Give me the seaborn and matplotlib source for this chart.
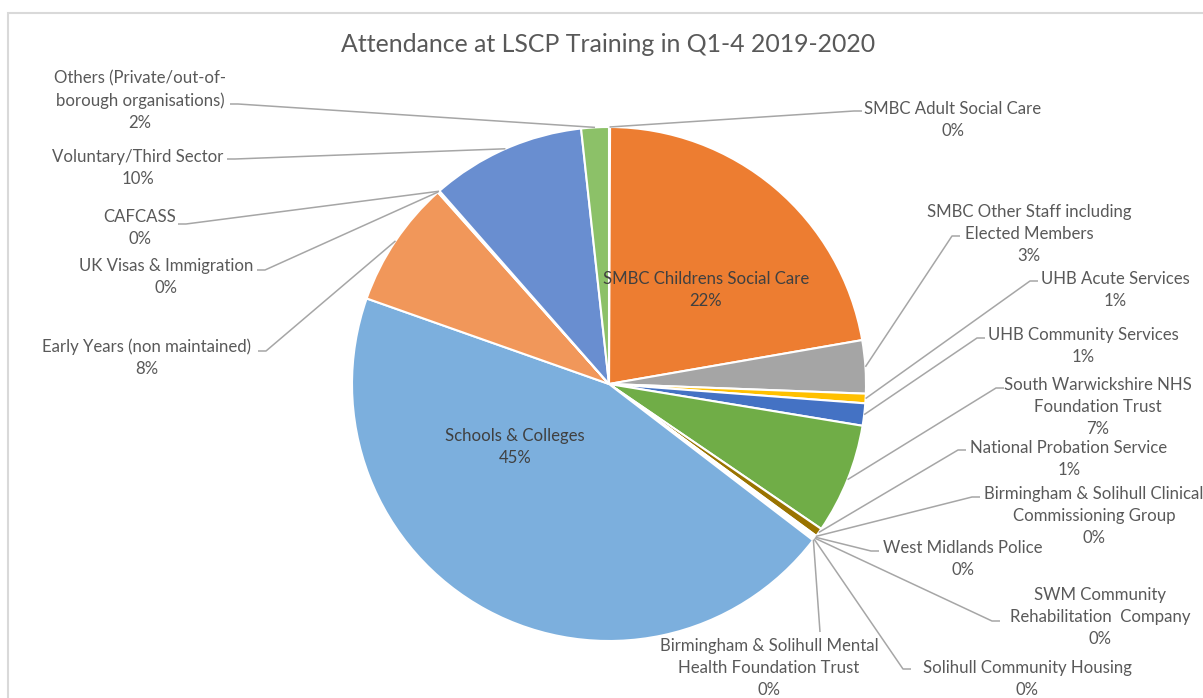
import matplotlib
matplotlib.use("Agg")
import matplotlib.pyplot as plt
import matplotlib.patches as mpatches
import numpy as np
import seaborn as sns

# ---------------- data (clockwise from 12 o'clock) ----------------
groups = [
    "SMBC Adult Social Care",
    "SMBC Childrens Social Care",
    "SMBC Other Staff including\nElected Members",
    "UHB Acute Services",
    "UHB Community Services",
    "South Warwickshire NHS\nFoundation Trust",
    "National Probation Service",
    "Birmingham & Solihull Clinical\nCommissioning Group",
    "West Midlands Police",
    "SWM Community\nRehabilitation  Company",
    "Solihull Community Housing",
    "Birmingham & Solihull Mental\nHealth Foundation Trust",
    "Schools & Colleges",
    "Early Years (non maintained)",
    "UK Visas & Immigration",
    "CAFCASS",
    "Voluntary/Third Sector",
    "Others (Private/out-of-\nborough organisations)",
]
attendees = [1, 333, 50, 9, 21, 104, 8, 1, 1, 1, 1, 1, 675, 120, 1, 1, 146, 26]

# ---------------- style ----------------
slice_colours = [
    "#4472C4", "#ED7D31", "#A5A5A5", "#FFC000", "#4472C4", "#70AD47",
    "#997300", "#9E480E", "#636363", "#264478", "#255E91", "#43682B",
    "#7CAFDD", "#F1975A", "#B7B7B7", "#FFCD33", "#698ED0", "#8CC168",
]
TEXT_COLOR = "#595959"
LINE_COLOR = "#A6A6A6"
W, H = 1203, 698


def py(y):
    # image row -> data y
    return H - y


# label layout in image pixels: index -> (text cx, text cy, attach x, attach y, elbow)
OUTER_LABELS = {
    0: (953, 120, 862, 111, -8),
    2: (1029, 234, 960, 236, -8),
    3: (1115, 290, 1038, 281, -8),
    4: (1083, 346, 985, 338, -8),
    5: (1098, 407, 1004, 388, -8),
    6: (1069, 459, 966, 450, -8),
    7: (1094, 516, 980, 497, -8),
    8: (963, 559, 879, 551, -8),
    9: (1100, 617, 1000, 621, -8),
    10: (1027, 679, 911, 669, -8),
    11: (769, 668, 820, 632, 0),
    13: (147, 358, 258, 351, 8),
    14: (166, 277, 257, 270, 8),
    15: (140, 228, 178, 224, 8),
    16: (138, 168, 227, 159, 8),
    17: (140, 101, 230, 104, 8),
}
INNER_LABELS = {1: (706, 290), 12: (515, 447)}

sns.set_theme(style="white")
plt.rcParams["font.family"] = ["Lato", "DejaVu Sans"]

fig = plt.figure(figsize=(W / 100, H / 100), dpi=100)
ax = fig.add_axes([0, 0, 1, 1])

CX, CY, R = 609, py(384), 257
wedges, _ = ax.pie(
    attendees, colors=slice_colours, startangle=90, counterclock=False,
    radius=R, center=(CX, CY),
    wedgeprops=dict(edgecolor="white", linewidth=1.5),
)
ax.set_xlim(0, W)
ax.set_ylim(0, H)
ax.axis("off")

share = np.array(attendees) / np.sum(attendees) * 100
labels = [f"{g}\n{np.round(s):.0f}%" for g, s in zip(groups, share)]

FS = 12.1
LS = 1.45
for i, (cx, cy, axx, ayy, elbow) in OUTER_LABELS.items():
    w = wedges[i]
    mid = np.deg2rad((w.theta1 + w.theta2) / 2)
    tip = (CX + R * np.cos(mid), CY + R * np.sin(mid))
    xs = [axx, axx + elbow, tip[0]]
    ys = [py(ayy), py(ayy), tip[1]]
    ax.plot(xs, ys, color=LINE_COLOR, lw=1.1, solid_capstyle="butt", zorder=1)
    ax.text(cx, py(cy), labels[i], ha="center", va="center", multialignment="center",
            fontsize=FS, color=TEXT_COLOR, linespacing=LS)

for i, (cx, cy) in INNER_LABELS.items():
    ax.text(cx, py(cy), labels[i], ha="center", va="center", multialignment="center",
            fontsize=FS, color="#404040", linespacing=LS)

ax.text(608, py(45), "Attendance at LSCP Training in Q1-4 2019-2020", ha="center",
        va="center", fontsize=17.9, color=TEXT_COLOR)

# chart-area border (only top/left visible in the crop)
ax.add_patch(mpatches.Rectangle((7.5, -10), W + 20, py(12.5) + 10, fill=False,
                                edgecolor="#D9D9D9", lw=1.5, clip_on=True))

fig.savefig("out.png", dpi=100, facecolor="white")
